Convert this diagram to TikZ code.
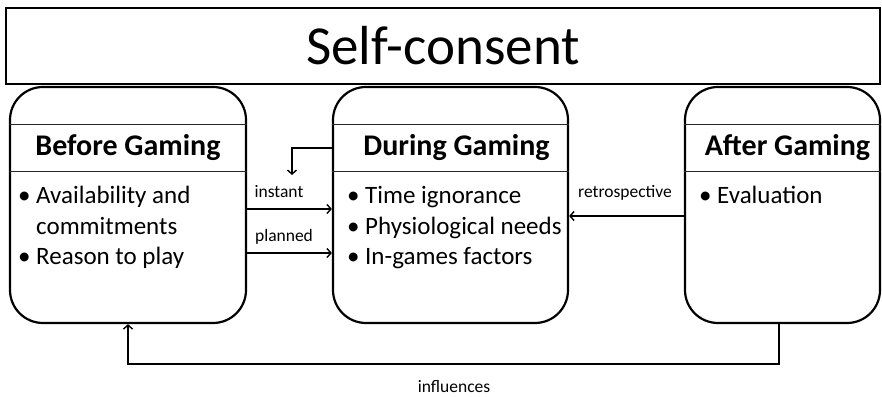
\documentclass[tikz,border=0pt]{standalone}
\usepackage{fontspec}
\setmainfont{Carlito}
\usetikzlibrary{arrows.meta}
\newcommand{\bul}{\makebox[18pt][l]{\textbullet}}
\tikzset{phasebox/.style={draw, line width=2.2pt, rounded corners=33pt, minimum height=236pt, inner sep=0pt},
  phasetitle/.style={font=\fontsize{30}{34}\selectfont\bfseries, anchor=base, inner sep=0pt},
  phaselist/.style={font=\fontsize{25}{30.5}\selectfont, anchor=base west, inner sep=0pt},
  divider/.style={line width=0.9pt, draw=black!85},
  flowarrow/.style={-{Straight Barb[length=4pt,width=9pt]}, line width=1.4pt},
  arrowlabel/.style={font=\fontsize{17.5}{20}\selectfont, anchor=base, inner sep=0pt}}

\begin{document}
\begin{tikzpicture}[x=1pt, y=1pt]
\useasboundingbox (0,0) rectangle (882,396);
% banner
\node[draw, line width=1.8pt, minimum width=874pt, minimum height=76pt, inner sep=0pt, font=\fontsize{55}{60}\selectfont] (consent) at (443,350) {Self-consent};
% the three phases
\node[phasebox, minimum width=236pt] (before) at (128,191) {};
\node[phasebox, minimum width=235pt] (during) at (450.5,191) {};
\node[phasebox, minimum width=195pt] (after) at (782.5,191) {};
\coordinate (hi) at (0,272);
\coordinate (lo) at (0,225);
\foreach \b in {before,during,after}{
  \draw[divider] (\b.west |- hi) -- (\b.east |- hi);
  \draw[divider] (\b.west |- lo) -- (\b.east |- lo);
}
\node[phasetitle] (beforettl) at (128,240) {Before Gaming};
\node[phasetitle] (duringttl) at (456.5,240) {During Gaming};
\node[phasetitle] (afterttl) at (787.5,240) {After Gaming};
\node[phaselist] (beforelst) at (18,192) {\begin{tabular}[t]{@{}l@{}}\bul Availability and\\ \hspace*{18pt}commitments\\ \bul Reason to play\end{tabular}};
\node[phaselist] (duringlst) at (347,192) {\begin{tabular}[t]{@{}l@{}}\bul Time ignorance\\ \bul Physiological needs\\ \bul In-games factors\end{tabular}};
\node[phaselist] (afterlst) at (699,192) {\begin{tabular}[t]{@{}l@{}}\bul Evaluation\end{tabular}};
% transitions
\draw[flowarrow] ([yshift=-4pt]before.east) -- ([yshift=-4pt]during.west);
\draw[flowarrow] ([yshift=-48pt]before.east) -- ([yshift=-48pt]during.west);
\draw[flowarrow] ([yshift=-11pt]after.west) -- ([yshift=-11pt]during.east);
\coordinate (loopend) at (292,221);
\draw[flowarrow] ([yshift=57pt]during.west) -| (loopend);
\draw[flowarrow] ([xshift=-3.5pt]after.south) -- ++(0,-40) -| (before.south);
\node[arrowlabel] (instantlbl) at (279,198) {instant};
\node[arrowlabel] (plannedlbl) at (284,154) {planned};
\node[arrowlabel] (retrolbl) at (625,198) {retrospective};
\node[arrowlabel] (influencelbl) at (454,4) {influences};
\end{tikzpicture}
\end{document}
